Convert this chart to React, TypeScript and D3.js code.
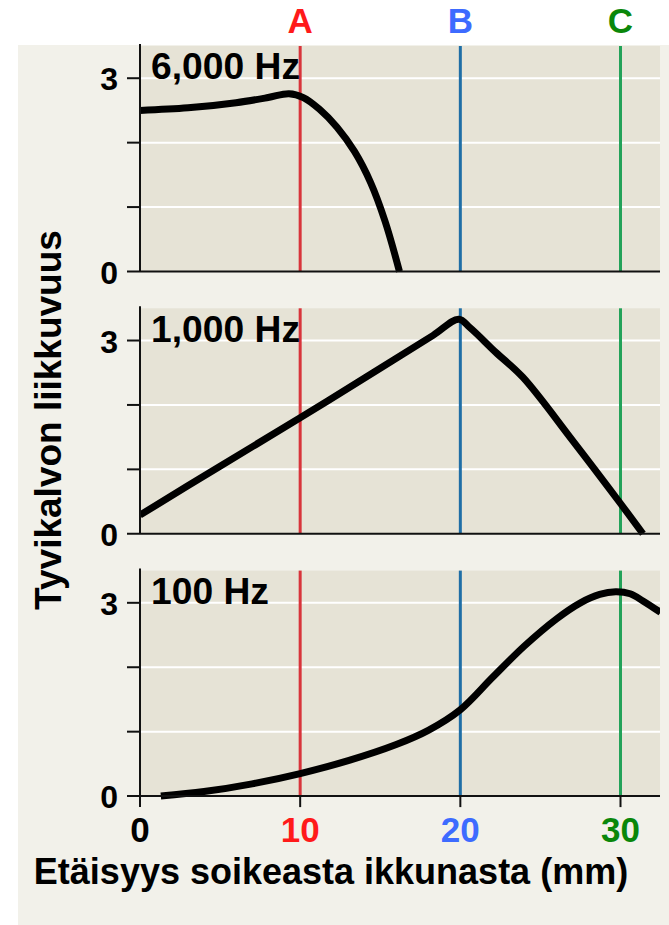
import React, { useEffect, useRef } from "react";
import * as d3 from "d3";

// distance along the basilar membrane (mm) and membrane movement per frequency
const panelLabels = ["6,000 Hz", "1,000 Hz", "100 Hz"];

const dist6000 = [0, 3, 6, 8, 9.3, 10.2, 11.2, 12.3, 13.4, 14.4, 15.3, 16.2];
const amp6000 = [2.5, 2.54, 2.62, 2.7, 2.76, 2.7, 2.52, 2.24, 1.86, 1.38, 0.78, 0];

const dist1000 = [0, 5, 10, 15, 18.3, 19.9, 20.6, 22.2, 23.9, 27, 30, 31.4];
const amp1000 = [0.29, 1.05, 1.8, 2.57, 3.08, 3.33, 3.2, 2.82, 2.43, 1.45, 0.47, 0];

const dist100 = [1.3, 4, 7, 10, 13, 16, 18, 20, 22, 24, 26, 27.5, 28.7, 29.7, 30.6, 31.4, 32.5];
const amp100 = [0, 0.07, 0.19, 0.35, 0.55, 0.8, 1.02, 1.34, 1.84, 2.33, 2.75, 3.0, 3.13, 3.17, 3.14, 3.03, 2.85];

const xTicks = [0, 10, 20, 30];
const yGrid = [1, 2, 3];
const yLabels = [0, 3];
const markerNames = ["A", "B", "C"];
const markerDist = [10, 20, 30];

const App = () => {
  const svgRef = useRef(null);

  useEffect(() => {
    const width = 669;
    const height = 925;
    const font = "'Liberation Sans', Arial, sans-serif";
    const svg = d3.select(svgRef.current).attr("width", width).attr("height", height);
    svg.selectAll("*").remove();

    const series = [
      d3.zip(dist6000, amp6000),
      d3.zip(dist1000, amp1000),
      d3.zip(dist100, amp100),
    ];

    const x = d3.scaleLinear().domain([0, 30]).range([140, 620.5]);
    const plotRight = 660;
    const panelH = 225.5;
    const panelStep = 262.3;
    const firstTop = 46;

    const markerLine = ["#d8343b", "#1f6ea6", "#23a259"];
    const markerText = ["#ff1a1a", "#3d6bff", "#0a870a"];

    svg.append("rect").attr("width", width).attr("height", height).attr("fill", "#ffffff");
    svg
      .append("rect")
      .attr("x", 18)
      .attr("y", 45)
      .attr("width", width - 18)
      .attr("height", height - 45)
      .attr("fill", "#f2f1ea");

    svg
      .append("clipPath")
      .attr("id", "plotclip")
      .append("rect")
      .attr("x", x(0))
      .attr("y", 0)
      .attr("width", plotRight - x(0))
      .attr("height", height);

    series.forEach((data, i) => {
      const top = firstTop + i * panelStep;
      const bottom = top + panelH;
      const y = d3.scaleLinear().domain([0, 3.5]).range([bottom, top]);
      const g = svg.append("g");

      g.append("rect")
        .attr("x", x(0))
        .attr("y", top)
        .attr("width", plotRight - x(0))
        .attr("height", panelH)
        .attr("fill", "#e6e3d6");

      g.selectAll(".grid")
        .data(yGrid)
        .enter()
        .append("line")
        .attr("x1", x(0))
        .attr("x2", plotRight)
        .attr("y1", (d) => y(d))
        .attr("y2", (d) => y(d))
        .attr("stroke", "#ffffff")
        .attr("stroke-width", 2);

      g.selectAll(".marker")
        .data(markerDist)
        .enter()
        .append("line")
        .attr("x1", (d) => x(d))
        .attr("x2", (d) => x(d))
        .attr("y1", top)
        .attr("y2", bottom)
        .attr("stroke", (d, j) => markerLine[j])
        .attr("stroke-width", 3);

      const line = d3
        .line()
        .x((d) => x(d[0]))
        .y((d) => y(d[1]))
        .curve(d3.curveCatmullRom.alpha(0.5));

      g.append("path")
        .attr("d", line(data))
        .attr("fill", "none")
        .attr("stroke", "#000")
        .attr("stroke-width", 7)
        .attr("stroke-linejoin", "round")
        .attr("clip-path", "url(#plotclip)");

      // axes
      g.append("line")
        .attr("x1", x(0))
        .attr("x2", x(0))
        .attr("y1", top - 2)
        .attr("y2", bottom)
        .attr("stroke", "#111")
        .attr("stroke-width", 2);
      g.append("line")
        .attr("x1", x(0) - 13)
        .attr("x2", plotRight)
        .attr("y1", bottom)
        .attr("y2", bottom)
        .attr("stroke", "#111")
        .attr("stroke-width", 2);
      g.selectAll(".ytick")
        .data(yGrid)
        .enter()
        .append("line")
        .attr("x1", x(0) - 13)
        .attr("x2", x(0))
        .attr("y1", (d) => y(d))
        .attr("y2", (d) => y(d))
        .attr("stroke", "#111")
        .attr("stroke-width", 2);

      g.selectAll(".ylab")
        .data(yLabels)
        .enter()
        .append("text")
        .attr("x", 118)
        .attr("y", (d) => y(d) + 12)
        .attr("text-anchor", "end")
        .attr("font-family", font)
        .attr("font-weight", "bold")
        .attr("font-size", 32)
        .text((d) => d);

      g.append("text")
        .attr("x", 151)
        .attr("y", y(3) + 1)
        .attr("font-family", font)
        .attr("font-weight", "bold")
        .attr("font-size", 36)
        .attr("textLength", i === 2 ? 118 : 149)
        .attr("lengthAdjust", "spacingAndGlyphs")
        .text(panelLabels[i]);

      if (i === series.length - 1) {
        g.selectAll(".xtick")
          .data(xTicks)
          .enter()
          .append("line")
          .attr("x1", (d) => x(d))
          .attr("x2", (d) => x(d))
          .attr("y1", bottom)
          .attr("y2", bottom + 11)
          .attr("stroke", "#111")
          .attr("stroke-width", 2);
        g.selectAll(".xlab")
          .data(xTicks)
          .enter()
          .append("text")
          .attr("x", (d) => x(d))
          .attr("y", bottom + 46)
          .attr("text-anchor", "middle")
          .attr("font-family", font)
          .attr("font-weight", "bold")
          .attr("font-size", 35)
          .attr("fill", (d) => {
            const j = markerDist.indexOf(d);
            return j < 0 ? "#000" : markerText[j];
          })
          .text((d) => d);
      }
    });

    svg
      .selectAll(".mname")
      .data(markerNames)
      .enter()
      .append("text")
      .attr("x", (d, j) => x(markerDist[j]))
      .attr("y", 33)
      .attr("text-anchor", "middle")
      .attr("font-family", font)
      .attr("font-weight", "bold")
      .attr("font-size", 35)
      .attr("fill", (d, j) => markerText[j])
      .text((d) => d);

    svg
      .append("text")
      .attr("x", 331)
      .attr("y", 884)
      .attr("text-anchor", "middle")
      .attr("font-family", font)
      .attr("font-weight", "bold")
      .attr("font-size", 36)
      .text("Etäisyys soikeasta ikkunasta (mm)");

    svg
      .append("text")
      .attr("transform", "translate(61, 420) rotate(-90)")
      .attr("text-anchor", "middle")
      .attr("font-family", font)
      .attr("font-weight", "bold")
      .attr("font-size", 37)
      .text("Tyvikalvon liikkuvuus");
  }, []);

  return (
    <svg ref={svgRef} style={{ position: "absolute", left: 0, top: 0, display: "block" }}></svg>
  );
};

export default App;
